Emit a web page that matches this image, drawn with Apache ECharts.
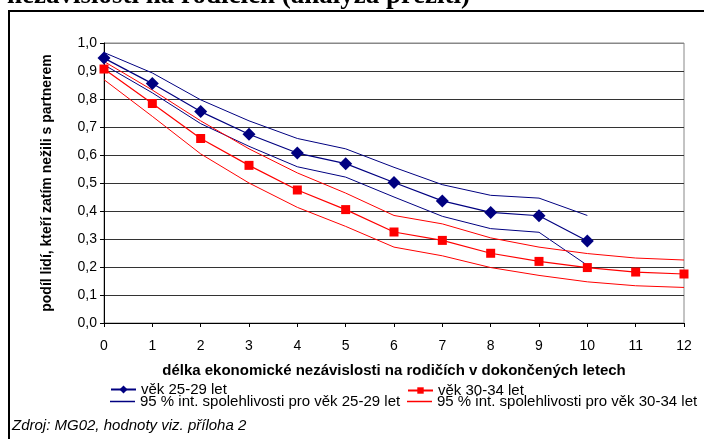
<!DOCTYPE html>
<html>
<head>
<meta charset="utf-8">
<script src="https://cdn.jsdelivr.net/npm/echarts@6/dist/echarts.min.js"></script>
<style>
  html, body { margin: 0; padding: 0; background: #fff; }
  #chart { width: 704px; height: 439px; }
</style>
</head>
<body>
<div id="chart"></div>
<script>
// roky nezávislosti (osa x)
var years = [0, 1, 2, 3, 4, 5, 6, 7, 8, 9, 10, 11, 12];

// věk 25-29 let
var age2529 = [0.946, 0.855, 0.755, 0.674, 0.607, 0.569, 0.502, 0.436, 0.395, 0.383, 0.293];
var age2529Upper = [0.966, 0.893, 0.797, 0.722, 0.659, 0.622, 0.556, 0.494, 0.456, 0.446, 0.384];
var age2529Lower = [0.922, 0.822, 0.712, 0.631, 0.558, 0.521, 0.450, 0.381, 0.337, 0.324, 0.206];

// věk 30-34 let
var age3034 = [0.907, 0.784, 0.659, 0.563, 0.475, 0.405, 0.325, 0.295, 0.249, 0.220, 0.198, 0.182, 0.175];
var age3034Upper = [0.934, 0.832, 0.722, 0.622, 0.536, 0.464, 0.384, 0.354, 0.304, 0.271, 0.248, 0.232, 0.225];
var age3034Lower = [0.869, 0.738, 0.604, 0.500, 0.413, 0.345, 0.271, 0.240, 0.198, 0.170, 0.147, 0.133, 0.127];

var yTicks = [0, 0.1, 0.2, 0.3, 0.4, 0.5, 0.6, 0.7, 0.8, 0.9, 1.0];

var NAVY = '#000080';
var RED = '#ff0000';
var CI_2529 = '95 % int. spolehlivosti pro věk 25-29 let';
var CI_3034 = '95 % int. spolehlivosti pro věk 30-34 let';
// tenká čára jako ikona legendy pro intervaly spolehlivosti
var LINE_ICON = 'path://M0,0 L50,0 L50,3 L0,3 Z';

function pairs(vals) {
  return vals.map(function (v, i) { return [years[i], v]; });
}

var chart = echarts.init(document.getElementById('chart'));

var legendText = { fontFamily: 'Liberation Sans', fontSize: 15, color: '#000' };
function legendAt(item, left, top, h) {
  return { data: [item], left: left, top: top, itemWidth: 25, itemHeight: h || 10, itemGap: 0, textStyle: legendText, padding: 0 };
}

var option = {
  animation: false,
  textStyle: { fontFamily: 'Liberation Sans' },
  grid: {
    left: 104, right: 20, top: 43, bottom: 116,
    show: true, borderColor: '#888', borderWidth: 1
  },
  graphic: [
    {
      type: 'rect', shape: { x: 9, y: 11, width: 720, height: 450 },
      style: { fill: 'none', stroke: '#000', lineWidth: 2 }, z: -1
    },
    {
      type: 'text', x: 470, y: -17,
      style: {
        text: 'podíl lidí podle délky ekonomické nezávislosti na rodičích (analýza přežití)',
        font: 'bold 27px "Liberation Serif"', fill: '#000', align: 'right', verticalAlign: 'top'
      }
    },
    {
      type: 'text', x: 12, y: 418,
      style: {
        text: 'Zdroj: MG02, hodnoty viz. příloha 2',
        font: 'italic 15px "Liberation Sans"', fill: '#000'
      }
    }
  ],
  legend: [
    legendAt('věk 25-29 let', 110, 382, 10),
    legendAt({ name: CI_2529, icon: LINE_ICON, itemStyle: { color: NAVY } }, 110, 394),
    legendAt('věk 30-34 let', 407, 383, 8),
    legendAt({ name: CI_3034, icon: LINE_ICON, itemStyle: { color: RED } }, 407, 394)
  ],
  xAxis: {
    type: 'value', min: 0, max: 12, interval: 1,
    name: 'délka ekonomické nezávislosti na rodičích v dokončených letech',
    nameLocation: 'middle', nameGap: 40,
    nameTextStyle: { fontWeight: 'bold', fontSize: 15, color: '#000' },
    axisLine: { lineStyle: { color: '#000', width: 1 } },
    axisTick: { show: true, length: 4, lineStyle: { color: '#000' } },
    axisLabel: { margin: 16, fontSize: 14, color: '#000' },
    splitLine: { show: false }
  },
  yAxis: {
    type: 'value', min: 0, max: 1, interval: 0.1,
    name: 'podíl lidí, kteří zatím nežili s partnerem',
    nameLocation: 'middle', nameGap: 50,
    nameTextStyle: { fontWeight: 'bold', fontSize: 14, color: '#000' },
    axisLine: { show: true, lineStyle: { color: '#000', width: 1 } },
    axisTick: { show: true, length: 4, lineStyle: { color: '#000' } },
    axisLabel: {
      margin: 7, fontSize: 14, color: '#000',
      formatter: function (v) { return v.toFixed(1).replace('.', ','); }
    },
    splitLine: {
      show: true,
      lineStyle: {
        width: 1,
        color: yTicks.map(function (t, i) { return i === yTicks.length - 1 ? '#888' : '#333'; })
      }
    }
  },
  series: [
    {
      name: CI_2529, type: 'line', data: pairs(age2529Upper), showSymbol: false, symbol: 'none',
      lineStyle: { color: NAVY, width: 1 }, itemStyle: { color: NAVY }, z: 2
    },
    {
      name: CI_2529, type: 'line', data: pairs(age2529Lower), showSymbol: false, symbol: 'none',
      lineStyle: { color: NAVY, width: 1 }, itemStyle: { color: NAVY }, z: 2
    },
    {
      name: CI_3034, type: 'line', data: pairs(age3034Upper), showSymbol: false, symbol: 'none',
      lineStyle: { color: RED, width: 1 }, itemStyle: { color: RED }, z: 2
    },
    {
      name: CI_3034, type: 'line', data: pairs(age3034Lower), showSymbol: false, symbol: 'none',
      lineStyle: { color: RED, width: 1 }, itemStyle: { color: RED }, z: 2
    },
    {
      name: 'věk 25-29 let', type: 'line', data: pairs(age2529),
      symbol: 'diamond', symbolSize: 13, clip: false,
      lineStyle: { color: NAVY, width: 1.2 }, itemStyle: { color: NAVY }, z: 3
    },
    {
      name: 'věk 30-34 let', type: 'line', data: pairs(age3034),
      symbol: 'rect', symbolSize: 9, clip: false,
      lineStyle: { color: RED, width: 1.2 }, itemStyle: { color: RED }, z: 3
    }
  ]
};

chart.setOption(option);
</script>
</body>
</html>
